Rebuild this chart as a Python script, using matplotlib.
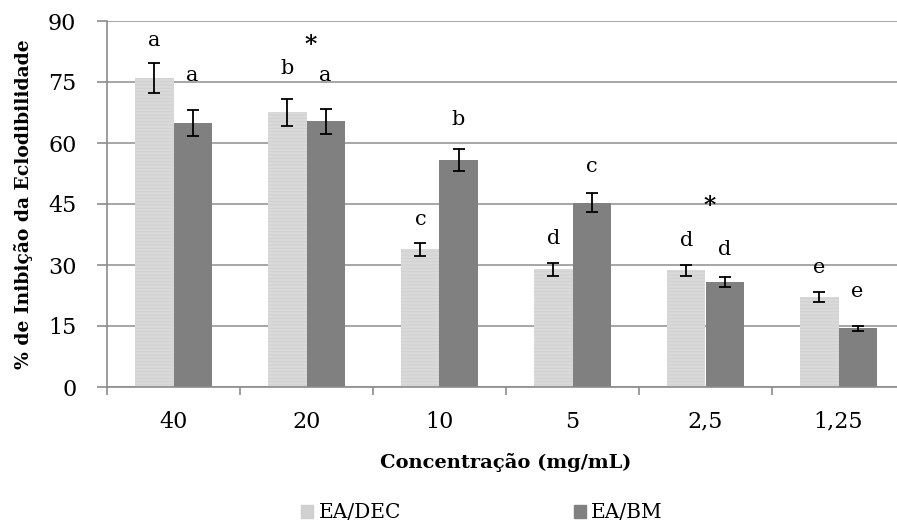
import matplotlib
matplotlib.use("Agg")
import matplotlib.pyplot as plt
from matplotlib.patches import Patch
import numpy as np

# concentrations (mg/mL) as printed on the axis
CONC = ["40", "20", "10", "5", "2,5", "1,25"]

# % inhibition of hatchability, mean and error
DEC_MEAN = [75.9, 67.6, 33.9, 29.0, 28.7, 22.1]
DEC_ERR = [3.7, 3.3, 1.6, 1.6, 1.4, 1.2]
BM_MEAN = [64.8, 65.3, 55.8, 45.3, 25.9, 14.4]
BM_ERR = [3.2, 3.1, 2.8, 2.3, 1.2, 0.7]

# significance letters
DEC_LET = ["a", "b", "c", "d", "d", "e"]
BM_LET = ["a", "a", "b", "c", "d", "e"]
STAR_AT = ["20", "2,5"]

# where the letters sit (data units)
DEC_LET_Y = [85.1, 78.2, 41.3, 36.6, 36.1, 29.5]
BM_LET_Y = [76.5, 76.5, 65.7, 54.2, 33.7, 23.4]
STAR_Y = [84.0, 44.6]

C_DEC = "#d9d9d9"
C_BM = "#808080"
GRID = "#a6a6a6"
SPINE = "#8c8c8c"
FONT = "DejaVu Serif"


def main():
    plt.rcParams["font.family"] = FONT
    plt.rcParams["hatch.color"] = "#d0d0d0"
    plt.rcParams["hatch.linewidth"] = 0.6

    fig = plt.figure(figsize=(8.97, 5.25), dpi=100, facecolor="white")
    ax = fig.add_axes([107 / 897, 1 - 387 / 525, 798 / 897, 366 / 525])

    x = np.arange(len(CONC))
    w = 0.286
    ax.bar(x - w / 2, DEC_MEAN, w, color=C_DEC, hatch="-----", zorder=2)
    ax.bar(x + w / 2, BM_MEAN, w, color=C_BM, zorder=2)
    ax.errorbar(x - w / 2, DEC_MEAN, yerr=DEC_ERR, fmt="none", ecolor="black",
                elinewidth=1.3, capsize=4.3, capthick=1.3, zorder=3)
    ax.errorbar(x + w / 2, BM_MEAN, yerr=BM_ERR, fmt="none", ecolor="black",
                elinewidth=1.3, capsize=4.3, capthick=1.3, zorder=3)

    for i in range(len(CONC)):
        ax.text(x[i] - w / 2, DEC_LET_Y[i], DEC_LET[i], ha="center",
                va="center", fontsize=15)
        ax.text(x[i] + w / 2, BM_LET_Y[i], BM_LET[i], ha="center",
                va="center", fontsize=15)
    for c, y in zip(STAR_AT, STAR_Y):
        ax.text(CONC.index(c) + 0.03, y, "*", ha="center", va="center",
                fontsize=17, fontweight="bold")

    ax.set_xlim(-0.5, len(CONC) - 0.5)
    ax.set_ylim(0, 90)
    ax.set_yticks(np.arange(0, 91, 15))
    ax.yaxis.grid(True, color=GRID, lw=1.4, zorder=0)
    ax.set_axisbelow(True)

    ax.set_xticks(np.arange(-0.5, len(CONC), 1.0))
    ax.set_xticklabels([])
    ax.set_xticks(x, minor=True)
    ax.set_xticklabels(CONC, minor=True)
    ax.tick_params(axis="x", which="minor", length=0, pad=17, labelsize=16)
    ax.tick_params(axis="x", which="major", length=6, color=SPINE, width=1.2)
    ax.tick_params(axis="y", length=7, color=SPINE, width=1.2, labelsize=16,
                   pad=15)

    for s in ("top", "right"):
        ax.spines[s].set_visible(False)
    for s in ("left", "bottom"):
        ax.spines[s].set_color(SPINE)
        ax.spines[s].set_linewidth(1.2)

    ax.set_ylabel("% de Inibição da Eclodibilidade", fontsize=13.5,
                  fontweight="bold", labelpad=11)
    ax.set_xlabel("Concentração (mg/mL)", fontsize=14, fontweight="bold",
                  labelpad=15)

    fig.legend(handles=[Patch(color="#d0d0d0", label="EA/DEC"),
                        Patch(color=C_BM, label="EA/BM")],
               loc="center", bbox_to_anchor=(482 / 897, 1 - 513 / 525),
               ncol=2, frameon=False, fontsize=14.5, handlelength=0.6,
               handleheight=0.6, handletextpad=0.25, columnspacing=8.6)

    fig.savefig("out.png", dpi=100, facecolor="white")


if __name__ == "__main__":
    main()
